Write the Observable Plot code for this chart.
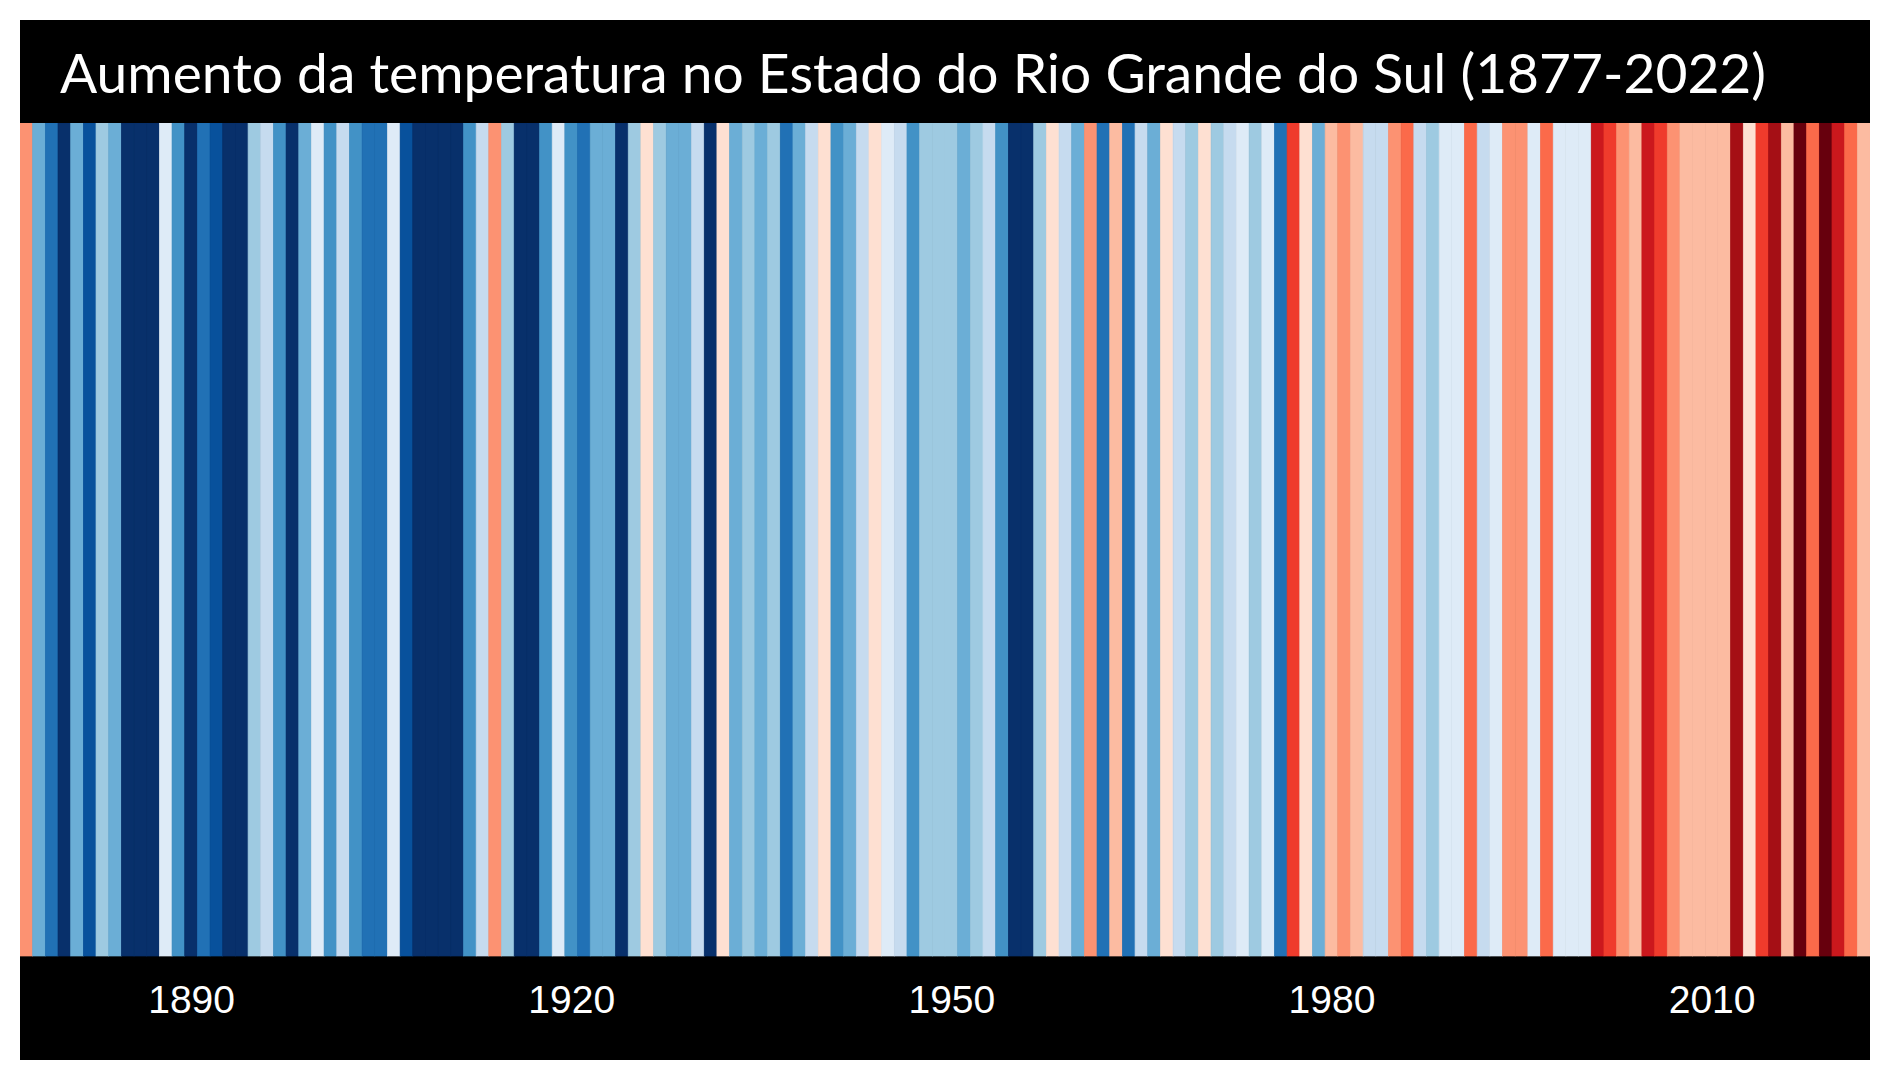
<!DOCTYPE html>
<html>
<head>
<meta charset="utf-8">
<script src="https://cdn.jsdelivr.net/npm/d3@7"></script>
<script src="https://cdn.jsdelivr.net/npm/@observablehq/plot@0.6"></script>
<style>
  html, body { margin: 0; padding: 0; background: #ffffff; }
  #frame { position: absolute; left: 20px; top: 20px; width: 1850px; height: 1040px; background: #000; }
  #frame svg { display: block; }
</style>
</head>
<body>
<div id="frame"></div>
<script>
// ---- Data ----
const titleText = "Aumento da temperatura no Estado do Rio Grande do Sul (1877-2022)";
const firstYear = 1877;
const lastYear = 2022;
const years = d3.range(firstYear, lastYear + 1);
// Estimated annual temperature anomaly (°C), read from stripe colours
const anomalies = [
  0.5,-0.7,-1.1,-1.5,-0.7,-1.3,-0.5,-0.7,-1.5,-1.5,
  -1.5,-0.1,-0.9,-1.5,-1.1,-1.3,-1.5,-1.5,-0.5,-0.3,
  -0.9,-1.5,-0.7,-0.1,-0.9,-0.3,-0.9,-1.1,-1.1,-0.1,
  -1.3,-1.5,-1.5,-1.5,-1.5,-0.9,-0.3,0.5,-0.5,-1.5,
  -1.5,-0.9,-0.1,-0.9,-1.1,-0.7,-0.7,-1.5,-0.5,0.1,
  -0.5,-0.7,-0.7,-0.3,-1.5,0.1,-0.7,-0.5,-0.7,-0.5,
  -1.1,-0.7,-0.3,0.1,-0.9,-0.7,-0.3,0.1,-0.1,-0.3,
  -0.9,-0.5,-0.5,-0.5,-0.7,-0.5,-0.3,-0.9,-1.5,-1.5,
  -0.5,0.1,-0.3,-0.7,0.5,-1.1,0.3,-1.1,-0.3,-0.7,
  0.1,-0.3,-0.5,0.1,-0.5,-0.3,-0.1,-0.5,-0.1,-1.1,
  0.9,0.1,-0.7,0.3,0.5,0.3,-0.3,-0.3,0.5,0.7,
  -0.3,-0.5,-0.1,-0.1,0.7,-0.3,-0.1,0.5,0.5,-0.1,
  0.7,-0.1,-0.1,-0.1,1.1,0.9,0.5,0.3,1.1,0.9,
  0.5,0.3,0.3,0.3,0.3,1.3,0.1,0.9,1.3,0.3,
  1.5,0.7,1.5,1.1,0.7,0.3
];
const tickYears = [1890, 1920, 1950, 1980, 2010];
const thresholds = [-1.4,-1.2,-1.0,-0.8,-0.6,-0.4,-0.2,0,0.2,0.4,0.6,0.8,1.0,1.2,1.4];
const stripeColors = [
  "#08306b","#08519c","#2171b5","#4292c6","#6baed6","#9ecae1","#c6dbef","#deebf7",
  "#fee0d2","#fcbba1","#fc9272","#fb6a4a","#ef3b2c","#cb181d","#a50f15","#67000d"
];

const data = years.map((year, i) => ({year, anomaly: anomalies[i]}));

// ---- Title ----
const frame = document.getElementById("frame");
const ns = "http://www.w3.org/2000/svg";
const tsvg = document.createElementNS(ns, "svg");
tsvg.setAttribute("width", 1850);
tsvg.setAttribute("height", 103);
const ttext = document.createElementNS(ns, "text");
ttext.setAttribute("x", 40);
ttext.setAttribute("y", 73);
ttext.setAttribute("fill", "#ffffff");
ttext.setAttribute("font-family", "Lato, 'Noto Sans', sans-serif");
ttext.setAttribute("font-size", 52);
ttext.textContent = titleText;
tsvg.appendChild(ttext);
frame.appendChild(tsvg);
const targetWidth = 1706;
const w = ttext.getComputedTextLength();
if (w > 0) ttext.setAttribute("font-size", (52 * targetWidth / w).toFixed(2));

// ---- Stripes ----
const chart = Plot.plot({
  width: 1850,
  height: 937,
  marginLeft: 0,
  marginRight: 0,
  marginTop: 0,
  marginBottom: 104,
  style: {background: "#000000", color: "#ffffff"},
  x: {type: "band", domain: years, padding: 0, axis: null},
  color: {type: "threshold", domain: thresholds, range: stripeColors},
  marks: [
    Plot.cell(data, {x: "year", fill: "anomaly", stroke: "anomaly", strokeWidth: 0.7}),
    Plot.axisX(tickYears, {
      tickSize: 0,
      tickPadding: 29,
      fontSize: 39,
      fill: "#ffffff",
      fontFamily: "'Liberation Sans', Arial, sans-serif",
      tickFormat: d => String(d),
      label: null
    })
  ]
});
frame.appendChild(chart);
</script>
</body>
</html>
